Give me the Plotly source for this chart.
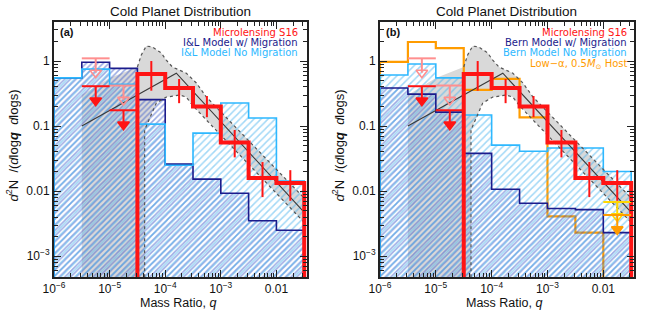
import plotly.graph_objects as go

# ---------------- data ----------------
LOG_Q_EDGES = [-6.0, -5.5, -5.0, -4.5, -4.0, -3.5, -3.0, -2.5, -2.0, -1.5]

# panel (a): Ida & Lin models
IL_MIG = [0.55, 0.96, 0.77, 0.255, 0.026, 0.0153, 0.0093, 0.0035, 0.0025]
IL_NOMIG = [0.55, 0.75, 0.44, 0.107, 0.025, 0.078, 0.226, 0.133, 0.0143]

# panel (b): Bern models + low-alpha
BERN_MIG = [0.385, 0.31, 0.164, 0.038, 0.0107, 0.0065, 0.0054, 0.0052, 0.0023]
BERN_NOMIG = [0.61, 0.90, 0.55, 0.148, 0.051, 0.041, 0.046, 0.046, 0.020]
LOW_ALPHA = [0.97, 1.96, 1.58, 0.36, 0.53, 0.136, 0.0041, 0.0023, 0.0]
LOW_ALPHA_UL_BIN = 8
LOW_ALPHA_UL = 0.0043
LOW_ALPHA_UL2 = 0.0068

# microlensing S16 histogram (zeros = no detection)
S16 = [0.0, 0.0, 0.0, 0.63, 0.385, 0.20, 0.056, 0.0159, 0.0133]
S16_HI = [None, None, None, 1.0, 0.53, 0.29, 0.087, 0.028, 0.021]
S16_LO = [None, None, None, 0.35, 0.225, 0.137, 0.033, 0.0081, 0.0071]
S16_UL = [None, 0.41, 0.175, None, None, None, None, None, None]
S16_UL_ALT = [None, 1.10, 0.42, None, None, None, None, None, None]

# broken power-law fit and its uncertainty band
FIT_LOGQ = [-5.5, -3.8, -1.5]
FIT_VAL = [0.10, 0.65, 0.0047]
BAND_UP_LOGQ = [-5.5, -5.0, -4.5, -4.43, -4.34, -4.23, -4.07, -3.98, -3.87, -3.62, -3.44, -3.26, -1.5]
BAND_UP = [0.30, 0.55, 0.81, 1.24, 1.70, 1.64, 1.33, 1.03, 0.81, 0.65, 0.46, 0.28, 0.0078]
BAND_LO_LOGQ = [-4.37, -4.37, -4.16, -3.98, -3.74, -3.62, -3.51, -3.26, -1.5]
BAND_LO = [0.0, 0.087, 0.226, 0.279, 0.30, 0.279, 0.21, 0.124, 0.0033]

X_TICKS = [1e-6, 1e-5, 1e-4, 1e-3, 1e-2]
X_TICKTEXT = ["10<sup>\u22126</sup>", "10<sup>\u22125</sup>", "10<sup>\u22124</sup>", "10<sup>\u22123</sup>", "0.01"]
Y_TICKS = [1e-3, 1e-2, 1e-1, 1]
Y_TICKTEXT = ["10<sup>\u22123</sup>", "0.01", "0.1", "1"]

# ---------------- styles ----------------
FONT = "Liberation Sans, Arial, sans-serif"
LEG_FONT = "DejaVu Sans, Liberation Sans, sans-serif"
RED = "#ff1414"
PINK = "#ff8f8f"
NAVY = "#1b1b8c"
LBLUE = "#2db8ff"
ORANGE = "#ff9c00"
YELLOW = "#ffd800"
GRAY_FILL = "#d9d9d9"
HATCH_DARK = "#3355c8"
HATCH_LIGHT = "#45b2ee"
FLOOR = 1e-6
ARROW_DEX = 0.27

fig = go.Figure()


def steps(vals):
    xs = [10 ** LOG_Q_EDGES[0]]
    ys = [FLOOR]
    for i, v in enumerate(vals):
        vv = v if v and v > 0 else FLOOR
        xs += [10 ** LOG_Q_EDGES[i], 10 ** LOG_Q_EDGES[i + 1]]
        ys += [vv, vv]
    xs.append(10 ** LOG_Q_EDGES[-1])
    ys.append(FLOOR)
    return xs, ys


def add(tr, p):
    tr.update(xaxis="x" if p == 1 else "x2", yaxis="y" if p == 1 else "y2",
              showlegend=False, hoverinfo="skip")
    fig.add_trace(tr)


def band(p):
    xs = [10 ** BAND_UP_LOGQ[0]] + [10 ** v for v in BAND_UP_LOGQ]
    ys = [FLOOR] + list(BAND_UP)
    for lq, v in zip(reversed(BAND_LO_LOGQ), reversed(BAND_LO)):
        xs.append(10 ** lq)
        ys.append(v if v > 0 else FLOOR)
    add(go.Scatter(x=xs, y=ys, mode="lines", fill="toself", fillcolor=GRAY_FILL,
                   line=dict(width=0, color=GRAY_FILL)), p)


def band_lines(p):
    ux = [10 ** q for q in BAND_UP_LOGQ if q >= -4.5]
    uy = [v for q, v in zip(BAND_UP_LOGQ, BAND_UP) if q >= -4.5]
    lx = [10 ** q for q in BAND_LO_LOGQ]
    ly = [v if v > 0 else FLOOR for v in BAND_LO]
    add(go.Scatter(x=ux + [None] + lx, y=uy + [None] + ly, mode="lines",
                   line=dict(color="#555555", width=1.2, dash="dot")), p)
    add(go.Scatter(x=[10 ** q for q in FIT_LOGQ], y=FIT_VAL, mode="lines",
                   line=dict(color="#3a3a3a", width=1.1)), p)


def hatch(vals, fg, size, solid, p):
    xs, ys = steps(vals)
    add(go.Scatter(x=xs, y=ys, mode="lines", fill="toself",
                   fillpattern=dict(shape="/", fgcolor=fg, bgcolor="rgba(0,0,0,0)",
                                    size=size, solidity=solid),
                   line=dict(width=0, color=fg)), p)


def outline(vals, color, width, p):
    xs, ys = steps(vals)
    add(go.Scatter(x=xs, y=ys, mode="lines", line=dict(color=color, width=width)), p)


def upper_limits(uls, color, symbol, p, width=2):
    for i, u in enumerate(uls):
        if u is None:
            continue
        lo, hi = 10 ** LOG_Q_EDGES[i], 10 ** LOG_Q_EDGES[i + 1]
        c = 10 ** ((LOG_Q_EDGES[i] + LOG_Q_EDGES[i + 1]) / 2)
        tip = u / 10 ** ARROW_DEX
        add(go.Scatter(x=[lo, hi, None, c, c], y=[u, u, None, u, tip * 1.12], mode="lines",
                       line=dict(color=color, width=width)), p)
        add(go.Scatter(x=[c], y=[tip * 1.12], mode="markers",
                       marker=dict(symbol=symbol, size=10, color=color,
                                   line=dict(color=color, width=1.6))), p)


def s16(p):
    upper_limits(S16_UL_ALT, PINK, "triangle-down-open", p)
    upper_limits(S16_UL, RED, "triangle-down", p)
    ex, ey, px, py = [], [], [], []
    for i, v in enumerate(S16):
        if S16_HI[i] is None:
            continue
        c = 10 ** ((LOG_Q_EDGES[i] + LOG_Q_EDGES[i + 1]) / 2)
        ex += [c, c, None]
        ey += [S16_LO[i], S16_HI[i], None]
        px.append(c)
        py.append(v)
    add(go.Scatter(x=ex, y=ey, mode="lines", line=dict(color=RED, width=2)), p)
    outline(S16, RED, 4, p)
    add(go.Scatter(x=px, y=py, mode="markers",
                   marker=dict(symbol="line-ew", size=8, line=dict(color=RED, width=2.5))), p)


# ---- panel (a)
band(1)
hatch(IL_MIG, HATCH_DARK, 4, 0.38, 1)
hatch(IL_NOMIG, HATCH_LIGHT, 5, 0.3, 1)
outline(IL_MIG, NAVY, 1.6, 1)
outline(IL_NOMIG, LBLUE, 1.6, 1)
band_lines(1)
s16(1)

# ---- panel (b)
band(2)
outline(LOW_ALPHA, ORANGE, 2.2, 2)
hatch(BERN_MIG, HATCH_DARK, 4, 0.38, 2)
hatch(BERN_NOMIG, HATCH_LIGHT, 5, 0.3, 2)
outline(BERN_MIG, NAVY, 1.6, 2)
outline(BERN_NOMIG, LBLUE, 1.6, 2)
band_lines(2)
s16(2)
ula = [None] * len(LOW_ALPHA)
ula[LOW_ALPHA_UL_BIN] = LOW_ALPHA_UL2
upper_limits(ula, YELLOW, "triangle-down-open", 2)
ulb = [None] * len(LOW_ALPHA)
ulb[LOW_ALPHA_UL_BIN] = LOW_ALPHA_UL
upper_limits(ulb, ORANGE, "triangle-down", 2)

# ---------------- axes ----------------
x_minor = [m * 10 ** k for k in range(-6, -1) for m in range(2, 10) if m * 10 ** k < 0.036]
y_minor = [m * 10 ** k for k in range(-4, 1) for m in range(2, 10) if 5e-4 < m * 10 ** k < 4]

W, H = 654, 312
axis_common = dict(showline=True, linewidth=2, linecolor="#222222", mirror="allticks",
                   ticks="inside", ticklen=7, tickwidth=1.2, tickcolor="#222222",
                   showgrid=False, zeroline=False, type="log", automargin=False,
                   tickfont=dict(family=FONT, size=12, color="#111111"))
xa = dict(axis_common, range=[-6.0, -1.45], tickmode="array", tickvals=X_TICKS,
          ticktext=X_TICKTEXT,
          minor=dict(tickmode="array", tickvals=x_minor, ticks="inside", ticklen=4,
                     tickcolor="#222222", showgrid=False))
ya = dict(axis_common, range=[-3.32, 0.6], tickmode="array", tickvals=Y_TICKS,
          ticktext=Y_TICKTEXT,
          minor=dict(tickmode="array", tickvals=y_minor, ticks="inside", ticklen=4,
                     tickcolor="#222222", showgrid=False))

y0, y1 = 1 - 277 / H, 1 - 22 / H
fig.update_layout(
    width=W, height=H, margin=dict(l=0, r=0, t=0, b=0, autoexpand=False),
    paper_bgcolor="white", plot_bgcolor="white", showlegend=False,
    xaxis=dict(xa, domain=[54 / W, 307 / W], anchor="y"),
    yaxis=dict(ya, domain=[y0, y1], anchor="x"),
    xaxis2=dict(xa, domain=[380 / W, 634 / W], anchor="y2"),
    yaxis2=dict(ya, domain=[y0, y1], anchor="x2"),
)

ann = []


def text(x, y, s, size, color="#111111", xanchor="center", angle=0, family=FONT):
    ann.append(dict(x=x / W, y=1 - y / H, xref="paper", yref="paper", text=s,
                    showarrow=False, xanchor=xanchor, yanchor="middle", textangle=angle,
                    font=dict(family=family, size=size, color=color)))


YTITLE = "<i>d</i><sup>2</sup>N  /(<i>d</i>log<b><i>q</i></b>  <i>d</i>logs)"
for off, lab in [(0, "(a)"), (326, "(b)")]:
    text(180.5 + off, 12, "Cold Planet Distribution", 13.5)
    text(178 + off, 302.5, "Mass Ratio, <i>q</i>", 12.5)
    text(12.5 + off, 146, YTITLE, 13, angle=-90)
    text(58 + off, 32, "<b>" + lab + "</b>", 11, xanchor="left")

legA = [("Microlensing S16", RED), ("I&L Model w/ Migration", NAVY),
        ("I&L Model No Migration", LBLUE)]
legB = [("Microlensing S16", RED), ("Bern Model w/ Migration", NAVY),
        ("Bern Model No Migration", LBLUE),
        ("Low\u2212\u03b1, 0.5<i>M</i><sub>\u2299</sub> Host", ORANGE)]
LEG_Y = [32.5, 42.5, 52.5, 64.5]
for i, (s, c) in enumerate(legA):
    text(300, LEG_Y[i], s, 10, c, xanchor="right", family=LEG_FONT)
for i, (s, c) in enumerate(legB):
    text(629, LEG_Y[i], s, 10, c, xanchor="right", family=LEG_FONT)

fig.update_layout(annotations=ann)
fig.write_html("out.html", config={"displayModeBar": False},
               post_script="document.body.style.margin='0';document.body.style.padding='0';")
